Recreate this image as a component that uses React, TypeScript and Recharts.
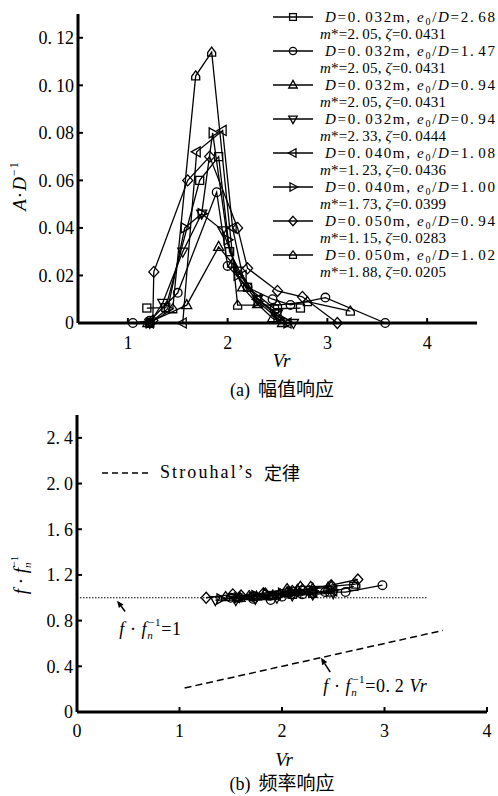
import React from 'react'
import { LineChart, Line, XAxis, YAxis, ReferenceLine } from 'recharts'

const SERIF = '"Liberation Serif", "DejaVu Serif", serif'
const CJK = '"Noto Sans CJK SC", "Noto Sans CJK JP", sans-serif'

// tick labels
const AMP_X_TICKS = [1, 2, 3, 4]
const AMP_Y_TICKS = [0, 0.02, 0.04, 0.06, 0.08, 0.1, 0.12]
const FREQ_X_TICKS = [0, 1, 2, 3, 4]
const FREQ_Y_TICKS = [0, 0.4, 0.8, 1.2, 1.6, 2.0, 2.4]

// legend (series parameters)
const LEGEND_D = ['0.032', '0.032', '0.032', '0.032', '0.040', '0.040', '0.050', '0.050']
const LEGEND_E = ['2.68', '1.47', '0.94', '0.94', '1.08', '1.00', '0.94', '1.02']
const LEGEND_M = ['2.05', '2.05', '2.05', '2.33', '1.23', '1.73', '1.15', '1.88']
const LEGEND_Z = ['0.0431', '0.0431', '0.0431', '0.0444', '0.0436', '0.0399', '0.0283', '0.0205']
const MARKERS = ['square', 'circle', 'triUp', 'triDown', 'triLeft', 'triRight', 'diamond', 'house']

// (a) amplitude response A/D vs Vr
const A1_VR = [1.19, 1.38, 1.72, 1.91, 2.02, 2.2, 2.47, 2.73]
const A1_AMP = [0.0063, 0.0065, 0.06, 0.07, 0.03, 0.015, 0.006, 0.0063]
const A2_VR = [1.05, 1.22, 1.5, 1.89, 2.0, 2.2, 2.45, 2.63, 2.98, 3.58]
const A2_AMP = [0, 0.001, 0.0127, 0.055, 0.024, 0.015, 0.01, 0.0076, 0.0107, 0]
const A3_VR = [1.2, 1.59, 1.91, 2.05, 2.15, 2.3, 2.45, 2.55]
const A3_AMP = [0, 0.0075, 0.032, 0.025, 0.015, 0.008, 0.002, 0]
const A4_VR = [1.22, 1.35, 1.55, 1.74, 1.95, 2.1, 2.3, 2.5, 2.66]
const A4_AMP = [0, 0.0085, 0.03, 0.046, 0.039, 0.022, 0.01, 0.004, 0]
const A5_VR = [1.22, 1.55, 1.69, 1.95, 2.05, 2.15, 2.3, 2.5, 2.6]
const A5_AMP = [0, 0, 0.072, 0.081, 0.04, 0.02, 0.01, 0.003, 0]
const A6_VR = [1.22, 1.4, 1.57, 1.74, 1.85, 2.0, 2.1, 2.3, 2.5, 2.6]
const A6_AMP = [0, 0.006, 0.04, 0.046, 0.08, 0.035, 0.02, 0.009, 0.002, 0]
const A7_VR = [1.25, 1.26, 1.6, 1.82, 2.1, 2.2, 2.5, 2.75, 3.1]
const A7_AMP = [0.001, 0.0215, 0.06, 0.07, 0.04, 0.023, 0.0135, 0.011, 0]
const A8_VR = [1.22, 1.45, 1.68, 1.84, 2.1, 2.5, 2.8, 3.23]
const A8_AMP = [0, 0.006, 0.104, 0.114, 0.0075, 0.0075, 0.009, 0.005]

// (b) frequency response f/fn vs Vr
const F1_VR = [1.57, 1.72, 1.91, 2.1, 2.3, 2.47, 2.7]
const F1_F = [1.0, 1.01, 1.02, 1.03, 1.04, 1.05, 1.1]
const F2_VR = [1.5, 1.72, 1.89, 2.0, 2.2, 2.29, 2.42, 2.62, 2.98]
const F2_F = [1.0, 0.99, 0.98, 1.01, 1.03, 1.04, 1.05, 1.05, 1.11]
const F3_VR = [1.59, 1.75, 1.91, 2.05, 2.15, 2.3, 2.45]
const F3_F = [1.0, 1.01, 1.02, 1.05, 1.07, 1.08, 1.09]
const F4_VR = [1.35, 1.55, 1.74, 1.95, 2.1, 2.3, 2.5]
const F4_F = [0.98, 0.98, 0.99, 1.0, 1.02, 1.03, 1.04]
const F5_VR = [1.55, 1.69, 1.95, 2.05, 2.15, 2.3, 2.5]
const F5_F = [1.0, 1.01, 1.03, 1.04, 1.04, 1.05, 1.06]
const F6_VR = [1.4, 1.57, 1.74, 1.85, 2.0, 2.1, 2.3]
const F6_F = [0.99, 1.0, 1.02, 1.03, 1.04, 1.05, 1.06]
const F7_VR = [1.26, 1.52, 1.6, 1.82, 2.1, 2.2, 2.48, 2.74]
const F7_F = [1.0, 1.03, 1.02, 1.04, 1.06, 1.07, 1.11, 1.16]
const F8_VR = [1.45, 1.68, 1.84, 2.05, 2.18, 2.28, 2.48, 2.72]
const F8_F = [1.01, 1.02, 1.04, 1.08, 1.1, 1.1, 1.1, 1.12]

// reference lines in (b)
const UNITY_VR = [0, 3.42]
const STROUHAL_VR = [1.05, 3.57]
const STROUHAL_K = 0.2

const toPts = (vr: number[], ys: number[]) => vr.map((x, i) => ({ x, y: ys[i] }))

const AMP_SERIES = [
  toPts(A1_VR, A1_AMP), toPts(A2_VR, A2_AMP), toPts(A3_VR, A3_AMP), toPts(A4_VR, A4_AMP),
  toPts(A5_VR, A5_AMP), toPts(A6_VR, A6_AMP), toPts(A7_VR, A7_AMP), toPts(A8_VR, A8_AMP),
]
const FREQ_SERIES = [
  toPts(F1_VR, F1_F), toPts(F2_VR, F2_F), toPts(F3_VR, F3_F), toPts(F4_VR, F4_F),
  toPts(F5_VR, F5_F), toPts(F6_VR, F6_F), toPts(F7_VR, F7_F), toPts(F8_VR, F8_F),
]

function Marker({ shape, cx, cy, s = 1 }: { shape: string; cx: number; cy: number; s?: number }) {
  const st = { fill: 'none', stroke: '#000', strokeWidth: 1.3 }
  const p = (pts: number[][]) => pts.map(([a, b]) => `${cx + a * s},${cy + b * s}`).join(' ')
  switch (shape) {
    case 'square':
      return <rect x={cx - 4 * s} y={cy - 4 * s} width={8 * s} height={8 * s} {...st} />
    case 'circle':
      return <circle cx={cx} cy={cy} r={4.3 * s} {...st} />
    case 'triUp':
      return <polygon points={p([[0, -5.5], [5, 3.5], [-5, 3.5]])} {...st} />
    case 'triDown':
      return <polygon points={p([[0, 5.5], [5, -3.5], [-5, -3.5]])} {...st} />
    case 'triLeft':
      return <polygon points={p([[-5.5, 0], [3.5, -5], [3.5, 5]])} {...st} />
    case 'triRight':
      return <polygon points={p([[5.5, 0], [-3.5, -5], [-3.5, 5]])} {...st} />
    case 'diamond':
      return <polygon points={p([[0, -5.5], [5, 0], [0, 5.5], [-5, 0]])} {...st} />
    default:
      return <polygon points={p([[-4, 4], [4, 4], [4, 0.5], [0, -5], [-4, 0.5]])} {...st} />
  }
}

const dotFor = (shape: string) => (props: any) => {
  const { cx, cy, index } = props
  if (cx == null || cy == null) return <g key={index} />
  return <Marker key={index} shape={shape} cx={cx} cy={cy} />
}

// numbers are set with a gap after the decimal point, as in the figure
const gapT = (s: string) => {
  const [a, b] = s.split('.')
  if (b === undefined) return a
  return (
    <>
      {a}.<tspan dx={3}>{b}</tspan>
    </>
  )
}

const makeTick = (dec: number, bottom: boolean) => (props: any) => {
  const { x, y, payload } = props
  const v = payload.value as number
  const s = v === 0 ? '0' : v.toFixed(dec)
  const [a, b] = s.split('.')
  return (
    <text x={x} y={y} dy={bottom ? '0.71em' : '0.35em'} textAnchor={bottom ? 'middle' : 'end'}
      fontFamily={SERIF} fontSize={18} fill="#000">
      {b === undefined ? a : (
        <>
          {a}.<tspan dx={4}>{b}</tspan>
        </>
      )}
    </text>
  )
}

const vrLabel = (dx: number, dy: number) => (props: any) => {
  const { x, y, width } = props.viewBox
  return (
    <text x={x + width / 2 + dx} y={y + dy} textAnchor="middle" fontFamily={SERIF}
      fontStyle="italic" fontSize={19} fill="#000">Vr</text>
  )
}

const ampYLabel = (props: any) => {
  const { x, y } = props.viewBox
  const tx = x + 8
  const ty = y + 172
  return (
    <text x={tx} y={ty} textAnchor="middle" transform={`rotate(-90, ${tx}, ${ty})`}
      fontFamily={SERIF} fontSize={19} fill="#000" letterSpacing={1}>
      <tspan fontStyle="italic">A</tspan>·<tspan fontStyle="italic">D</tspan>
      <tspan fontSize={12} dy={-8}>−1</tspan>
    </text>
  )
}

const ffParts = (
  <>
    <tspan fontStyle="italic">f</tspan> · <tspan fontStyle="italic">f</tspan>
    <tspan fontSize={11} fontStyle="italic" dy={4}>n</tspan>
    <tspan fontSize={11} dx={-5} dy={-13}>−1</tspan>
  </>
)

const freqYLabel = (props: any) => {
  const { x, y } = props.viewBox
  const tx = x + 10
  const ty = y + 160
  return (
    <text x={tx} y={ty} textAnchor="middle" transform={`rotate(-90, ${tx}, ${ty})`}
      fontFamily={SERIF} fontSize={19} fill="#000">
      {ffParts}
    </text>
  )
}

const ffLabel = (tail: React.ReactNode) => (
  <>
    {ffParts}
    <tspan dy={9}>{tail}</tspan>
  </>
)

const arrowShape = (label: React.ReactNode, lx: number, ly: number) => (props: any) => {
  const { x1, y1, x2, y2 } = props
  const ang = Math.atan2(y2 - y1, x2 - x1)
  const h = 7
  const w = 3
  const bx = x2 - h * Math.cos(ang)
  const by = y2 - h * Math.sin(ang)
  const pts = `${x2},${y2} ${bx + w * Math.sin(ang)},${by - w * Math.cos(ang)} ${bx - w * Math.sin(ang)},${by + w * Math.cos(ang)}`
  return (
    <g>
      <line x1={x1} y1={y1} x2={bx} y2={by} stroke="#000" strokeWidth={1.5} />
      <polygon points={pts} fill="#000" />
      <text x={x1 + lx} y={y1 + ly} fontFamily={SERIF} fontSize={18} fill="#000" letterSpacing={0.6}>{label}</text>
    </g>
  )
}

function AmpLegend() {
  return (
    <svg width={228} height={282} style={{ position: 'absolute', left: 270, top: 0 }}
      fontFamily={SERIF} fontSize={15} fill="#000">
      {MARKERS.map((m, i) => {
        const cy = 17 + i * 34
        return (
          <g key={m}>
            <line x1={3} x2={43} y1={cy} y2={cy} stroke="#000" strokeWidth={1.5} />
            <Marker shape={m} cx={23} cy={cy} s={0.85} />
            <text x={55} y={cy + 5} textLength={170} lengthAdjust="spacing">
              <tspan fontStyle="italic">D</tspan>={gapT(LEGEND_D[i])}m, <tspan fontStyle="italic">e</tspan>
              <tspan fontSize={10} dy={3}>0</tspan>
              <tspan dy={-3}>/</tspan><tspan fontStyle="italic">D</tspan>={gapT(LEGEND_E[i])}
            </text>
            <text x={50} y={cy + 22} textLength={126} lengthAdjust="spacing">
              <tspan fontStyle="italic">m</tspan>*={gapT(LEGEND_M[i])}, <tspan fontStyle="italic">ζ</tspan>={gapT(LEGEND_Z[i])}
            </text>
          </g>
        )
      })}
    </svg>
  )
}

function StrouhalLegend() {
  return (
    <div style={{ position: 'absolute', left: 100, top: 459, display: 'flex', alignItems: 'center', whiteSpace: 'nowrap' }}>
      <svg width={56} height={20} style={{ flex: 'none' }}>
        <line x1={2} x2={52} y1={11} y2={11} stroke="#000" strokeWidth={1.5} strokeDasharray="6 4" />
      </svg>
      <span style={{ fontFamily: SERIF, fontSize: 18, letterSpacing: 2.1, marginLeft: 4 }}>Strouhal’s</span>
      <span style={{ fontFamily: CJK, fontSize: 18, marginLeft: 10 }}>定律</span>
    </div>
  )
}

function Caption({ top, tag, text }: { top: number; tag: string; text: string }) {
  return (
    <div style={{ position: 'absolute', left: 0, width: 564, top, height: 22, lineHeight: '22px', textAlign: 'center', whiteSpace: 'nowrap', color: '#000' }}>
      <span style={{ fontFamily: SERIF, fontSize: 18 }}>{tag}</span>
      <span style={{ fontFamily: CJK, fontSize: 19, marginLeft: 8 }}>{text}</span>
    </div>
  )
}

const axisLine = { stroke: '#000', strokeWidth: 3 }
const tickLine = { stroke: '#000', strokeWidth: 2 }

export default function App() {
  return (
    <div style={{ position: 'absolute', left: 0, top: 0, width: 498, height: 796, background: '#fff', overflow: 'hidden' }}>
      <div style={{ position: 'absolute', left: 0, top: 0 }}>
        <LineChart width={498} height={400} margin={{ top: 14, right: 21, bottom: 47, left: 18 }}>
          <XAxis type="number" dataKey="x" domain={[0.5, 4.5]} ticks={AMP_X_TICKS} height={30}
            axisLine={axisLine} tickLine={tickLine} tickSize={-5} tickMargin={18}
            tick={makeTick(0, true)} label={{ content: vrLabel(4, 44) }} />
          <YAxis type="number" domain={[0, 0.13]} ticks={AMP_Y_TICKS} width={60}
            axisLine={axisLine} tickLine={tickLine} tickSize={-5} tickMargin={9}
            tick={makeTick(2, false)} label={{ content: ampYLabel }} />
          {AMP_SERIES.map((d, i) => (
            <Line key={i} data={d} dataKey="y" type="linear" stroke="#000" strokeWidth={1.3}
              dot={dotFor(MARKERS[i])} activeDot={false} isAnimationActive={false} />
          ))}
        </LineChart>
      </div>
      <div style={{ position: 'absolute', left: 0, top: 400 }}>
        <LineChart width={498} height={396} margin={{ top: 15, right: 11, bottom: 54, left: 17 }}>
          <XAxis type="number" dataKey="x" domain={[0, 4]} ticks={FREQ_X_TICKS} height={30}
            axisLine={axisLine} tickLine={tickLine} tickSize={-5} tickMargin={17}
            tick={makeTick(0, true)} label={{ content: vrLabel(2, 54) }} />
          <YAxis type="number" domain={[0, 2.6]} ticks={FREQ_Y_TICKS} width={60}
            axisLine={axisLine} tickLine={tickLine} tickSize={-5} tickMargin={9}
            tick={makeTick(1, false)} label={{ content: freqYLabel }} />
          <ReferenceLine segment={[{ x: UNITY_VR[0], y: 1 }, { x: UNITY_VR[1], y: 1 }]}
            stroke="#000" strokeWidth={1} strokeDasharray="1.5 1.5" />
          <ReferenceLine segment={[
            { x: STROUHAL_VR[0], y: STROUHAL_K * STROUHAL_VR[0] },
            { x: STROUHAL_VR[1], y: STROUHAL_K * STROUHAL_VR[1] },
          ]} stroke="#000" strokeWidth={1.5} strokeDasharray="7 4" />
          <ReferenceLine segment={[{ x: 0.47, y: 0.88 }, { x: 0.39, y: 0.975 }]}
            shape={arrowShape(ffLabel('=1'), -6, 24)} />
          <ReferenceLine segment={[{ x: 2.47, y: 0.35 }, { x: 2.38, y: 0.475 }]}
            shape={arrowShape(ffLabel(<>=0.<tspan dx={4}>2</tspan> <tspan fontStyle="italic">Vr</tspan></>), -7, 20)} />
          {FREQ_SERIES.map((d, i) => (
            <Line key={i} data={d} dataKey="y" type="linear" stroke="#000" strokeWidth={1.3}
              dot={dotFor(MARKERS[i])} activeDot={false} isAnimationActive={false} />
          ))}
        </LineChart>
      </div>
      <AmpLegend />
      <StrouhalLegend />
      <Caption top={377} tag="(a)" text="幅值响应" />
      <Caption top={771} tag="(b)" text="频率响应" />
    </div>
  )
}
